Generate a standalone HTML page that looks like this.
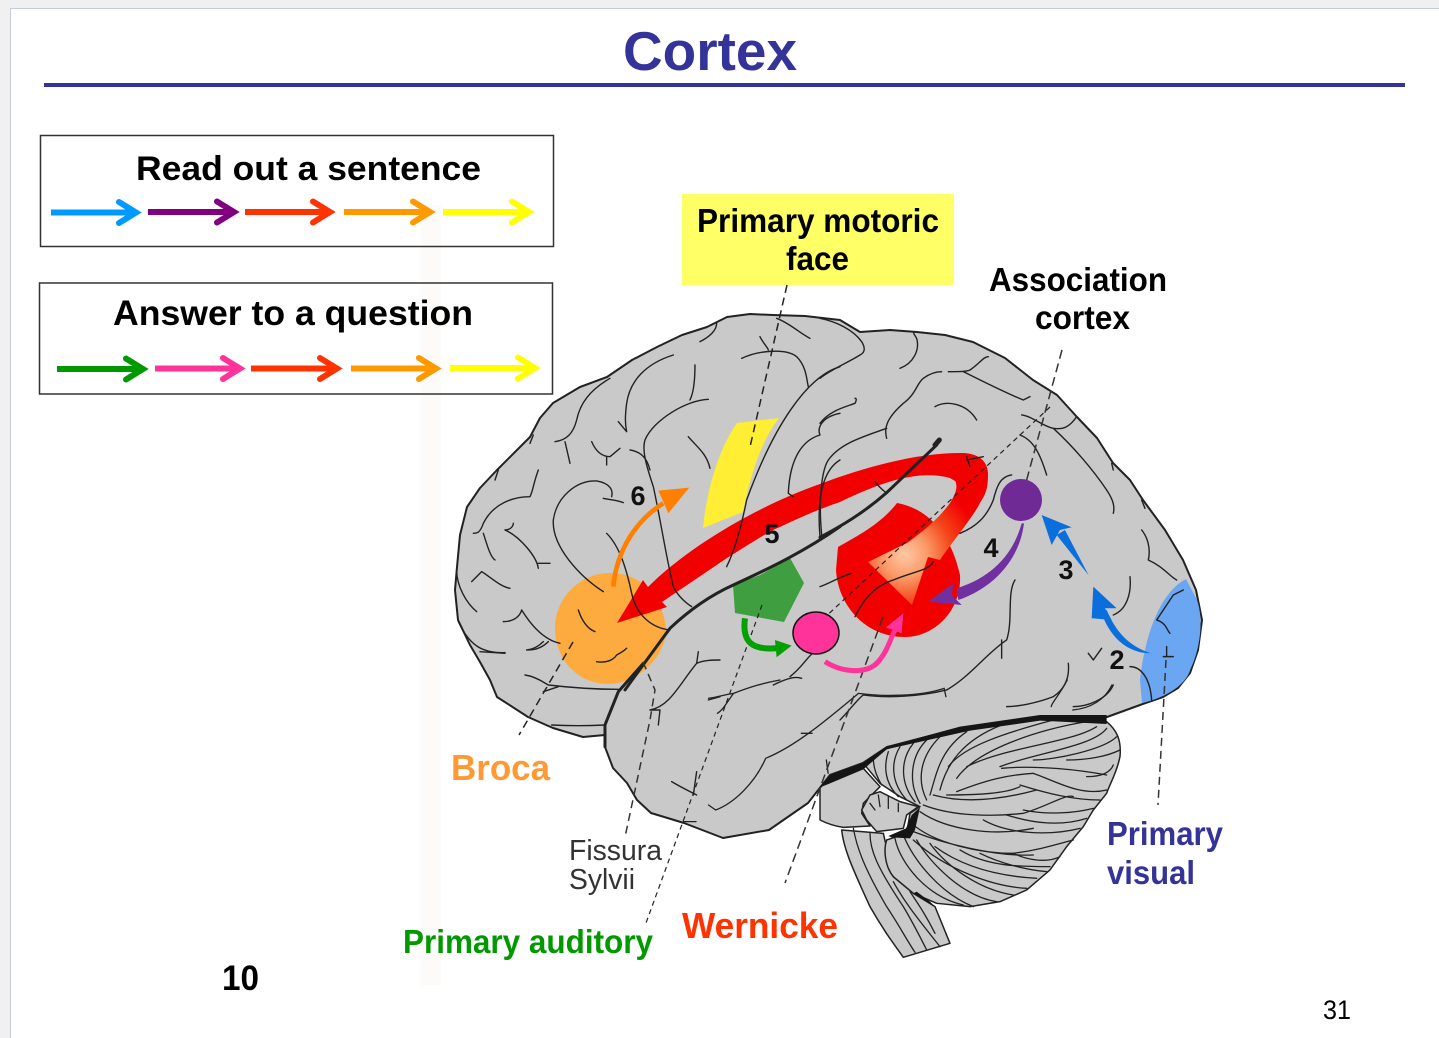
<!DOCTYPE html>
<html><head><meta charset="utf-8"><style>
html,body{margin:0;padding:0;background:#f0f0f0}
svg{display:block}
text{font-family:"Liberation Sans",sans-serif}
.b{font-weight:bold}
.s path{fill:none;stroke:#222;vector-effect:non-scaling-stroke;stroke-linecap:round;stroke-linejoin:round}
</style></head><body>
<svg width="1439" height="1038" viewBox="0 0 1439 1038" xmlns="http://www.w3.org/2000/svg">
<defs>
<radialGradient id="glow" gradientUnits="userSpaceOnUse" cx="905" cy="555" r="75">
<stop offset="0" stop-color="#ffc8a6"/><stop offset=".3" stop-color="#fb9a68"/><stop offset=".62" stop-color="#f4481a"/><stop offset="1" stop-color="#f20000"/></radialGradient>
</defs>
<rect x="10.5" y="8.5" width="1440" height="1040" fill="#fff" stroke="#c4ccd4"/>
<rect x="421" y="205" width="20" height="780" fill="#fdfbf9"/>
<rect x="44" y="83" width="1361" height="4" fill="#333399"/>
<text x="623" y="70" class="b" font-size="55" fill="#333399" textLength="174" lengthAdjust="spacingAndGlyphs">Cortex</text>

<rect x="40.500" y="135.500" width="513" height="111" fill="none" stroke="#333" stroke-width="1.500"/>
<rect x="39.500" y="283" width="513" height="111" fill="none" stroke="#333" stroke-width="1.500"/>
<text x="136" y="180" class="b" font-size="34" textLength="345" lengthAdjust="spacingAndGlyphs">Read out a sentence</text>
<text x="113" y="325" class="b" font-size="35" textLength="360" lengthAdjust="spacingAndGlyphs">Answer to a question</text>
<g fill="none" stroke-width="6" stroke-linecap="round" stroke-linejoin="miter">
<g stroke="#0099ff"><path stroke-linecap="butt" d="M51,212.500H135"/><path d="M119,202L136,212.500L119,223"/></g>
<g stroke="#800080"><path stroke-linecap="butt" d="M148,212H233"/><path d="M217,201.500L234,212L217,222.500"/></g>
<g stroke="#ff3300"><path stroke-linecap="butt" d="M245,212H329"/><path d="M313,201.500L330,212L313,222.500"/></g>
<g stroke="#ff9900"><path stroke-linecap="butt" d="M344,212H429"/><path d="M413,201.500L430,212L413,222.500"/></g>
<g stroke="#ffff00"><path stroke-linecap="butt" d="M443,212H528"/><path d="M512,201.500L529,212L512,222.500"/></g>
<g stroke="#009900"><path stroke-linecap="butt" d="M57,369H142"/><path d="M126,358.500L143,369L126,379.500"/></g>
<g stroke="#ff3399"><path stroke-linecap="butt" d="M155,368.500H239"/><path d="M223,358L240,368.500L223,379"/></g>
<g stroke="#ff3300"><path stroke-linecap="butt" d="M251,368.500H336"/><path d="M320,358L337,368.500L320,379"/></g>
<g stroke="#ff9900"><path stroke-linecap="butt" d="M351,368.500H435"/><path d="M419,358L436,368.500L419,379"/></g>
<g stroke="#ffff00"><path stroke-linecap="butt" d="M450,368H534"/><path d="M518,357.500L535,368L518,378.500"/></g>
</g>

<rect x="682" y="194" width="272" height="91" fill="#ffff66"/>

<!-- brainstem, cerebellum, pons in crop frame -->
<g transform="translate(820,700) scale(.3333)" stroke="#222" stroke-linejoin="round">
<path d="M65,390C70,440 90,490 150,620C190,690 220,730 250,772L390,730L345,620L280,580L220,530L190,400Z" fill="#c9c9c9" stroke-width="4.500"/>
<path d="M130,190L200,140L400,100L450,85L660,55L860,65C890,90 905,120 900,170C890,220 870,250 860,280L820,330L790,380L740,440L690,510L620,570L540,605L450,620L350,610L280,580L220,530C195,500 190,450 200,420L260,400L270,340L300,320L240,290L180,250Z" fill="#c9c9c9" stroke-width="4.500"/>
<path d="M0,255L130,205L180,260L130,310L125,340L150,378L70,382C40,378 20,370 0,360Z" fill="#c9c9c9" stroke-width="4.500"/>
<path d="M125,330L150,285L180,275L240,305L295,320L260,345L250,385L170,395L140,360Z" fill="#c9c9c9" stroke-width="4.500"/>
</g>

<!-- cerebrum -->
<path d="M457,567L460,535L467,507L480,488L497,470L515,452L530,437L540,418L553,403L580,387L607,377L632,360L657,347L682,335L707,327L727,317L750,314L773,315L805,316L840,320L860,332L890,330L917,332L945,335L973,342L1005,358L1033,380L1057,395L1077,417L1097,438L1113,463L1130,480L1143,500L1165,530L1183,560L1196,590L1202,620L1198,650L1190,673L1178,688L1163,697L1140,705L1107,717L1040,717L960,728L887,747L863,763L830,775L808,803L769,830L723,838L684,823L651,813L637,800L627,783L613,768L605,747L605,735L583,737L553,728L528,717L497,697L490,680L480,662L470,645L458,620L455,590Z" fill="#c9c9c9" stroke="#222" stroke-width="2" stroke-linejoin="round"/>

<!-- cerebellum folia -->
<g class="s" transform="translate(820,700) scale(.3333)" stroke-width="1.300">
<path d="M160,175C160,205 170,230 185,255M205,155C190,200 195,250 235,290M240,140C210,190 215,250 260,300M280,130C240,180 240,250 285,305M320,120C270,170 265,250 300,310M360,110C300,170 290,240 320,300M440,95C360,150 350,220 330,285M545,75C430,120 380,190 360,270"/>
<path d="M700,60C550,100 430,140 385,200M800,65C650,90 470,150 410,235M830,80C750,130 560,140 440,200M860,85C820,140 640,160 540,200M890,110C850,150 700,180 640,180M900,150C860,170 800,180 740,180M545,205C650,195 780,210 860,225M880,195C870,220 840,230 800,230"/>
<path d="M410,275C500,240 560,225 640,220C700,240 780,290 860,270M600,255C680,280 760,300 840,300M340,285C430,310 540,300 650,270M380,285C480,285 560,280 600,260"/>
<path d="M310,315C400,350 520,350 610,340C680,320 740,280 760,290M300,335C380,390 520,410 640,385M560,345C640,370 720,380 800,355M610,330C680,345 760,340 820,325"/>
<path d="M275,370C340,430 480,460 580,460C660,450 720,430 760,420M490,360C560,400 680,410 780,385M280,395C370,430 520,470 640,465"/>
<path d="M280,420C380,510 520,560 620,565M345,440C440,510 560,530 650,535M420,450C500,500 600,500 690,500M580,460C620,480 680,490 720,470M480,460C540,490 620,510 680,515"/>
<path d="M225,415C240,490 320,590 430,615M250,405C280,480 360,580 460,620M290,420C330,490 430,590 530,605M330,430C380,500 480,570 580,585"/>
<path d="M100,385C110,440 130,500 200,620C240,680 260,720 285,757M150,400C150,450 170,500 250,620C280,670 300,710 320,750M220,545C250,600 280,640 360,740M270,575C300,620 320,650 345,700"/>
<path d="M150,310L165,330M175,285L180,320M205,290L205,325M235,310L235,335"/>
</g>
<g transform="translate(820,700) scale(.3333)" fill="#151515">
<path d="M0,262L30,225L130,188L200,140L420,80L660,45L860,45L860,72L660,62L450,92L200,148L130,208L30,250Z"/>
<path d="M205,408L258,385L275,345L300,322L285,390L270,415L215,412Z"/>
<path d="M280,580L345,620L330,605L290,575Z"/>
</g>

<!-- coloured regions -->
<path d="M1186,579C1155,595 1143,650 1140,680L1142,703C1165,698 1186,685 1190,670C1200,650 1204,620 1197,600Z" fill="#6aa6f2"/>
<path d="M610,573C640,573 662,595 666,628C667,640 660,655 650,665C635,680 620,684 608,684C578,684 555,660 555,628C555,598 580,573 610,573Z" fill="#fdab3f"/>
<path d="M737,423L779,418C760,443 750,477 743,512L703,528C707,487 720,447 737,423Z" fill="#ffee33"/>
<path d="M733,585L760,575L790,558L804,583L784,622L735,613Z" fill="#3f9e3f"/>
<path d="M897,503C925,508 950,530 960,575C962,610 935,637 905,637C865,637 838,605 836,570L838,547C855,537 880,525 897,503Z" fill="#f20000"/>
<path d="M617,623L643,580L648,587C690,545 760,505 820,484C870,465 920,453 960,453C980,453 988,462 988,475L970,490L950,478C920,470 885,480 840,502C810,512 785,525 773,530C755,540 740,550 727,558L662,602L667,607Z" fill="#f20000"/>
<path d="M960,453C980,453 988,462 988,475C988,490 985,495 980,503C973,517 950,545 940,560L928,557L912,605L868,562L907,543C925,530 940,517 950,503C957,492 960,482 950,475Z" fill="url(#glow)"/>

<!-- sulci: frame 1 -->
<g class="s" transform="translate(440,300) scale(.3333)" stroke-width="1.400">
<path d="M700,165C620,190 570,240 560,310C555,350 555,370 560,395M535,365L560,395"/>
<path d="M1200,200C1100,230 1000,380 920,600C900,700 880,760 860,800"/>
<path d="M780,125C810,110 830,90 830,70M1010,55C1050,70 1080,100 1110,115M905,175C960,150 1040,145 1070,170C1100,200 1100,240 1105,260M960,110C970,130 985,145 985,150"/>
<path d="M765,195C765,240 760,280 750,300M805,298C740,300 640,360 615,420C605,450 620,500 640,560C660,650 680,780 700,860C715,890 740,910 755,920"/>
<path d="M570,450C600,455 620,470 630,510M745,410C770,440 800,460 810,505"/>
<path d="M510,235C450,270 420,310 410,360C400,400 380,420 345,425M375,425L390,490"/>
<path d="M455,425C470,460 490,470 510,470L540,445M500,470L500,495"/>
<path d="M295,510C280,550 280,570 270,590C220,590 160,610 130,670C120,700 110,700 100,700M130,700C140,730 150,770 165,780M165,540L175,510M270,430L280,405"/>
<path d="M515,590C520,570 510,550 470,543C410,540 350,590 340,660C335,740 420,830 490,875M490,595C510,600 530,600 550,608"/>
<path d="M500,700C540,740 560,810 575,880C590,950 640,985 690,990"/>
<path d="M195,690C210,690 220,680 220,670M195,690C240,710 290,770 295,805M295,790L330,790"/>
<path d="M95,845C110,830 120,820 125,815C150,830 180,860 210,865M50,810C50,860 80,910 110,935M55,965C90,1040 130,1060 195,1058"/>
<path d="M190,965C220,965 240,950 245,930C270,970 310,1020 360,1030M265,1050C300,1050 320,1030 325,1025"/>
<path d="M415,930C425,960 440,985 465,995M470,1085C500,1090 520,1080 530,1065C540,1060 550,1055 560,1045"/>
<path d="M1200,340C1150,350 1130,380 1140,405C1090,420 1050,470 1045,580M1060,590L1045,580M1200,480C1150,510 1130,590 1140,710M1150,710C1170,695 1190,690 1200,680"/>
<path d="M1000,1155C1050,1130 1070,1130 1085,1135M1050,1130C1090,1100 1100,1070 1130,1050"/>
<path stroke-width="3" d="M1200,680C1100,750 1000,800 880,855Q780,900 690,985Q620,1080 555,1170"/>
</g>
<!-- sulci: lower frontal / pole -->
<g class="s" transform="translate(480,640) scale(.3333)" stroke-width="1.400">
<path stroke-width="3" d="M490,70L415,155L375,255L375,320"/>
<path d="M135,105C170,110 195,130 205,135C290,145 350,148 415,148M190,155L235,140M215,255C270,258 320,258 375,255M0,35L75,40M140,30C160,28 175,20 190,5"/>
<path d="M510,210C570,200 600,130 650,70C670,60 700,60 720,60M655,35L650,70M510,210L540,210L535,255M575,425C600,440 620,450 650,465M650,395L640,465M685,180L720,170"/>
</g>
<!-- sulci: frame 2 -->
<g class="s" transform="translate(820,300) scale(.3333)" stroke-width="1.400">
<path stroke-width="3" d="M0,712C60,680 130,640 200,578L350,435"/>
<path stroke-width="5" d="M345,435L358,420"/>
<path d="M0,55C50,65 100,90 125,125C140,150 130,160 120,165C80,190 30,210 0,235M240,205C280,190 300,150 290,115C280,100 280,95 280,95"/>
<path d="M0,370C30,330 80,320 105,310C110,300 110,295 105,295"/>
<path d="M200,415C190,380 205,350 250,310C290,280 290,250 310,235C330,220 350,215 365,215M385,215C420,215 440,215 450,210C480,190 490,170 505,170M430,215C480,240 560,280 610,300L630,290"/>
<path d="M345,320C380,300 440,310 470,360M200,385C130,410 60,430 25,480C5,510 -5,600 5,705M165,545C180,565 195,575 200,580"/>
<path d="M605,345C640,350 670,380 700,385C730,390 750,380 770,350M600,405C640,420 660,460 680,525M700,385C760,440 820,510 860,570C880,600 885,620 880,640"/>
<path d="M965,690C990,720 990,760 985,780C1030,800 1050,830 1070,840M875,490L880,510M965,600L975,625"/>
<path d="M930,830C935,880 920,930 880,945M1090,870L1060,885L1010,960C1040,970 1040,990 1050,1000M1030,1070L1060,1070M1040,1040L1040,1070"/>
<path d="M930,1100C960,1100 990,1130 995,1200M805,1060L820,1080L845,1045"/>
<path d="M745,1090C750,1140 730,1170 700,1190C650,1210 590,1220 560,1220M880,1155C860,1200 800,1220 760,1220"/>
<path d="M585,840C560,880 580,960 560,1020C500,1060 450,1130 380,1170C300,1190 200,1195 130,1185C110,1200 90,1230 60,1260M545,1020L545,1075"/>
<path d="M340,785C330,810 280,815 220,840C160,860 130,900 105,950M95,820C60,830 30,850 0,860"/>
<path d="M575,525C540,530 530,560 520,600C500,650 470,680 420,700"/>
<path d="M440,470L450,500M440,480L490,470"/>
</g>
<!-- temporal -->
<g class="s" transform="translate(580,680) scale(.357,.3333)" stroke-width="1.300">
<path d="M360,55C390,50 400,45 430,40C480,20 510,10 560,0M385,100C400,90 410,70 430,40"/>
<path d="M360,375L380,390C430,370 490,310 520,235C600,200 680,130 780,40C850,50 950,50 1020,25M1020,25L1025,50M620,160L650,160M690,240L695,280"/>
<path d="M1365,0C1340,50 1320,70 1320,80M1490,15C1470,60 1430,85 1380,90"/>
<path d="M290,425L325,425"/>
</g>

<!-- dashed leaders -->
<g fill="none" stroke="#222">
<path stroke-width="1.500" stroke-dasharray="8 5" d="M787,285L750,447"/>
<path stroke-width="1.500" stroke="#333" stroke-dasharray="9 5" d="M1062,350L1022,497"/>
<path stroke-width="1.200" stroke-dasharray="5 4" d="M1050,407L820,622"/>
<path stroke-width="1.200" stroke-dasharray="5 4" d="M762,605L646,923"/>
<path stroke-width="1.500" stroke="#333" stroke-dasharray="9 5" d="M883,617L785,883"/>
<path stroke-width="1.500" stroke-dasharray="8 5" d="M573,642L519,735"/>
<path stroke-width="1.500" stroke="#333" stroke-dasharray="8 5" d="M643,662L655,690L650,720L625,837"/>
<path stroke-width="1.500" stroke="#333" stroke-dasharray="8 5" d="M1166,660L1158,805"/>
</g>

<!-- small arrows -->
<circle cx="1021" cy="500" r="21" fill="#702a96"/>
<ellipse cx="816" cy="633" rx="23" ry="21" fill="#ff3399" stroke="#111" stroke-width="1.500"/>
<g transform="translate(820,300) scale(.3333)">
<path d="M993,1060C930,1040 890,1000 860,930L845,940C870,1010 920,1060 993,1060Z" fill="#0a6fdc"/>
<path d="M820,860L890,925L855,925L875,960L815,955Z" fill="#0a6fdc"/>
<path d="M806,826L735,690L710,705Z" fill="#0a6fdc"/>
<path d="M665,645L755,682L720,690L695,735Z" fill="#0a6fdc"/>
</g>
<g transform="translate(800,440) scale(.3333)">
<path d="M665,250C640,340 580,410 470,445L475,480C590,440 660,350 672,250Z" fill="#7030a0"/>
<path d="M385,485L460,430L455,465L485,495Z" fill="#7030a0"/>
<path d="M75,665C130,700 200,700 230,670C260,640 270,600 285,570" fill="none" stroke="#ff3399" stroke-width="15"/>
<path d="M310,520L305,580L280,570L258,562Z" fill="#ff3399"/>
</g>
<g transform="translate(440,300) scale(.3333)">
<path d="M520,860C530,750 590,660 670,610" fill="none" stroke="#ff8000" stroke-width="14"/>
<path d="M748,563L655,572L670,605L685,640Z" fill="#ff8000"/>
<path d="M915,955C905,1030 940,1050 1010,1045" fill="none" stroke="#00a000" stroke-width="18"/>
<path d="M1055,1037L1005,1020L1010,1072Z" fill="#00a000"/>
</g>

<!-- labels -->
<g class="b" font-size="33">
<text x="697" y="232" textLength="242" lengthAdjust="spacingAndGlyphs">Primary motoric</text>
<text x="786" y="270" textLength="63" lengthAdjust="spacingAndGlyphs">face</text>
<text x="989" y="291" textLength="178" lengthAdjust="spacingAndGlyphs">Association</text>
<text x="1035" y="329" textLength="95" lengthAdjust="spacingAndGlyphs">cortex</text>
<text x="403" y="953" fill="#009900" textLength="250" lengthAdjust="spacingAndGlyphs">Primary auditory</text>
<text x="1107" y="845" fill="#333399" textLength="116" lengthAdjust="spacingAndGlyphs">Primary</text>
<text x="1107" y="884" fill="#333399" textLength="88" lengthAdjust="spacingAndGlyphs">visual</text>
</g>
<text x="451" y="780" class="b" font-size="36" fill="#ff9933" textLength="99" lengthAdjust="spacingAndGlyphs">Broca</text>
<text x="682" y="938" class="b" font-size="36" fill="#ff3300" textLength="156" lengthAdjust="spacingAndGlyphs">Wernicke</text>
<text x="569" y="860" font-size="29" fill="#333" textLength="93" lengthAdjust="spacingAndGlyphs">Fissura</text>
<text x="569" y="889" font-size="29" fill="#333" textLength="66" lengthAdjust="spacingAndGlyphs">Sylvii</text>
<text x="222" y="990" class="b" font-size="35" textLength="37" lengthAdjust="spacingAndGlyphs">10</text>
<text x="1323" y="1019" font-size="27" textLength="28" lengthAdjust="spacingAndGlyphs">31</text>
<g class="b" font-size="27" fill="#111" text-anchor="middle">
<text x="638" y="505">6</text>
<text x="772" y="543">5</text>
<text x="991" y="557">4</text>
<text x="1066" y="579">3</text>
<text x="1117" y="669">2</text>
</g>
</svg>
</body></html>
